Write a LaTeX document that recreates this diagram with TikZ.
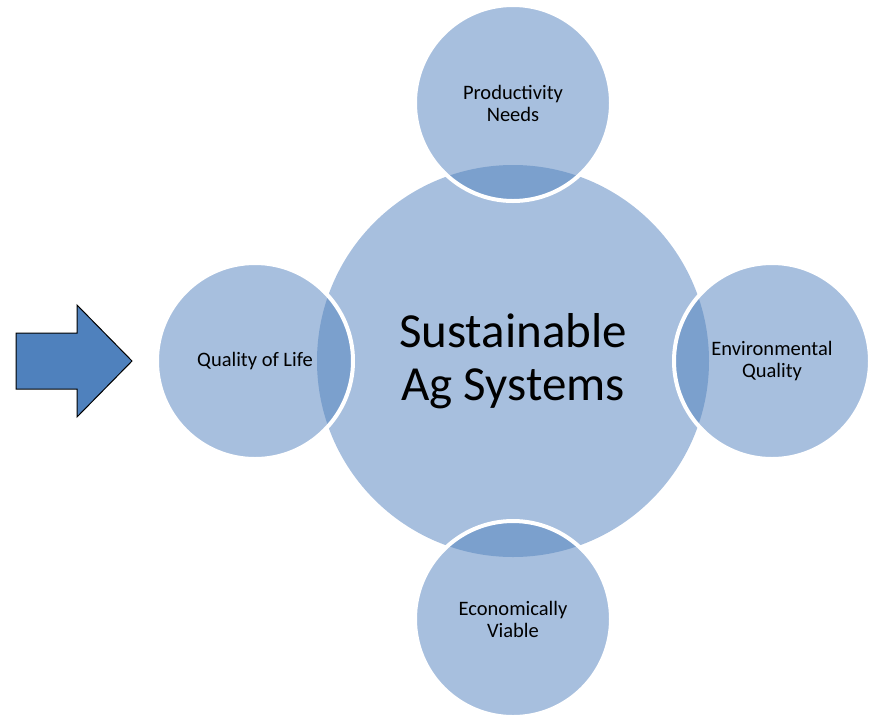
\documentclass[tikz,border=0pt]{standalone}
\usepackage{fontspec}
\setmainfont{Carlito}

\definecolor{petalblue}{HTML}{A7BFDE}
\definecolor{lensblue}{HTML}{7BA0CD}
\definecolor{arrowblue}{HTML}{4F81BD}

\begin{document}
\begin{tikzpicture}[
  x=1pt, y=-1pt,
  hub/.style={circle,fill=petalblue,minimum size=392pt,inner sep=0pt,align=center,
    font=\fontsize{49}{53}\selectfont},
  petal/.style={circle,fill=petalblue,minimum size=196pt,inner sep=0pt,align=center,
    font=\fontsize{20.5}{22}\selectfont},
  lens/.style={fill=lensblue},
  rim/.style={draw=white,line width=4pt},
  cue/.style={draw=black,fill=arrowblue,line width=1pt,line join=miter}
]
  \useasboundingbox (0,0) rectangle (870,716);

  \node[hub] (sys) at (513,361) {Sustainable\\Ag Systems};

  \foreach \name/\x/\y/\label in {
      prod/513/103/{Productivity\\Needs},
      env/772/361/{Environmental\\Quality},
      econ/513/619/{Economically\\Viable},
      life/255/361/{Quality of Life}}
    \node[petal] (\name) at (\x,\y) {\label};

  % darker overlap with the central circle, then the white rim
  \foreach \name in {prod,env,econ,life} {
    \begin{scope}
      \clip (\name.center) circle (98pt);
      \fill[lens] (sys.center) circle (196pt);
    \end{scope}
    \draw[rim] (\name.center) circle (98pt);
  }

  % block arrow pointing at the circles
  \draw[cue] (16,333) -- (77,333) -- (77,305) -- (132,361)
    -- (77,417) -- (77,389) -- (16,389) -- cycle;
\end{tikzpicture}
\end{document}
